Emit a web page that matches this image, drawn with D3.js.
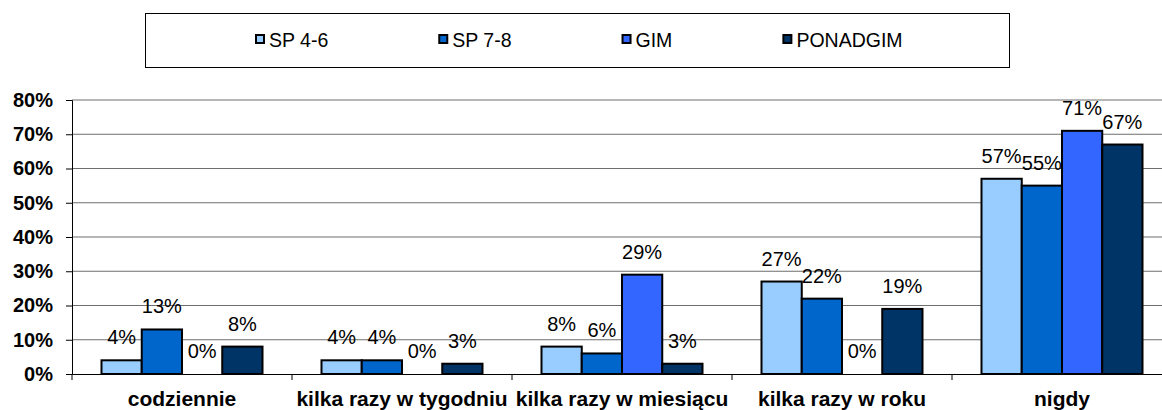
<!DOCTYPE html>
<html>
<head>
<meta charset="utf-8">
<script src="https://cdn.jsdelivr.net/npm/d3@7"></script>
<style>
  body { margin: 0; background: #fff; }
  svg { display: block; font-family: "Liberation Sans", Arial, sans-serif; }
</style>
</head>
<body>
<div id="chart"></div>
<script>
// data
var categories = ['codziennie', 'kilka razy w tygodniu', 'kilka razy w miesiącu', 'kilka razy w roku', 'nigdy'];
var seriesNames = ['SP 4-6', 'SP 7-8', 'GIM', 'PONADGIM'];
var sp46 = [4, 4, 8, 27, 57];
var sp78 = [13, 4, 6, 22, 55];
var gim = [0, 0, 29, 0, 71];
var ponadgim = [8, 3, 3, 19, 67];
var yTicks = [0, 10, 20, 30, 40, 50, 60, 70, 80];

var seriesValues = [sp46, sp78, gim, ponadgim];
var colors = ['#99ccff', '#0066cc', '#3366ff', '#003366'];

function drawChart() {
  // Settings
  var width = 1162;
  var height = 410;
  var plotLeft = 72, plotRight = 1172, plotTop = 100, plotBottom = 374;

  var svg = d3.select('#chart')
    .append('svg')
    .attr('width', width)
    .attr('height', height);

  var x = d3.scaleBand().domain(categories).range([plotLeft, plotRight]).padding(0);
  var inner = d3.scaleBand().domain(seriesNames)
    .range([29.5, x.bandwidth() - 29.5]).padding(0);
  var y = d3.scaleLinear().domain([0, 80]).range([plotBottom, plotTop]);

  // gridlines
  svg.append('g')
    .selectAll('line')
    .data(yTicks.filter(function(d) { return d > 0; }))
    .enter()
    .append('line')
    .attr('x1', plotLeft)
    .attr('x2', plotRight)
    .attr('y1', function(d) { return y(d); })
    .attr('y2', function(d) { return y(d); })
    .attr('stroke', '#6e6e6e')
    .attr('stroke-width', 1.2);

  // y axis
  var yAxis = svg.append('g')
    .attr('transform', 'translate(' + plotLeft + ',0)')
    .call(d3.axisLeft(y).tickValues(yTicks).tickSize(6).tickPadding(13)
      .tickFormat(function(d) { return d + '%'; }));
  yAxis.select('.domain').attr('stroke', '#000');
  yAxis.selectAll('line').attr('stroke', '#000');
  yAxis.selectAll('text')
    .attr('font-family', '"Liberation Sans", Arial, sans-serif')
    .attr('font-size', 20)
    .attr('font-weight', 'bold')
    .attr('fill', '#000');

  // x axis
  var xAxis = svg.append('g')
    .attr('transform', 'translate(0,' + plotBottom + ')')
    .call(d3.axisBottom(x).tickSize(0).tickPadding(0).tickSizeOuter(0));
  xAxis.select('.domain').attr('stroke', '#000');
  xAxis.selectAll('text')
    .attr('font-family', '"Liberation Sans", Arial, sans-serif')
    .attr('font-size', 21)
    .attr('font-weight', 'bold')
    .attr('fill', '#000')
    .attr('dy', null)
    .attr('y', 32);

  // category boundary ticks
  svg.append('g')
    .selectAll('line')
    .data(categories)
    .enter()
    .append('line')
    .attr('x1', function(d) { return x(d); })
    .attr('x2', function(d) { return x(d); })
    .attr('y1', plotBottom)
    .attr('y2', plotBottom + 6)
    .attr('stroke', '#000');

  // bars
  var groups = svg.selectAll('.grp')
    .data(categories)
    .enter()
    .append('g')
    .attr('class', 'grp')
    .attr('transform', function(d) { return 'translate(' + x(d) + ',0)'; });

  groups.selectAll('rect')
    .data(function(c, ci) {
      return seriesNames.map(function(s, si) {
        return { s: s, si: si, v: seriesValues[si][ci] };
      });
    })
    .enter()
    .append('rect')
    .attr('x', function(d) { return inner(d.s); })
    .attr('y', function(d) { return y(d.v); })
    .attr('width', inner.bandwidth())
    .attr('height', function(d) { return y(0) - y(d.v); })
    .attr('fill', function(d) { return colors[d.si]; })
    .attr('stroke', function(d) { return d.v > 0 ? '#000' : 'none'; })
    .attr('stroke-width', 2);

  groups.selectAll('text')
    .data(function(c, ci) {
      return seriesNames.map(function(s, si) {
        return { s: s, si: si, v: seriesValues[si][ci] };
      });
    })
    .enter()
    .append('text')
    .attr('x', function(d) { return inner(d.s) + inner.bandwidth() / 2; })
    .attr('y', function(d) { return y(d.v) - 16; })
    .attr('text-anchor', 'middle')
    .attr('font-size', 20)
    .attr('fill', '#000')
    .text(function(d) { return d.v + '%'; });

  // legend
  var legend = svg.append('g');
  legend.append('rect')
    .attr('x', 145.5)
    .attr('y', 13.5)
    .attr('width', 864)
    .attr('height', 54)
    .attr('fill', '#fff')
    .attr('stroke', '#000')
    .attr('stroke-width', 1);

  var lx = 256;
  seriesNames.forEach(function(s, i) {
    legend.append('rect')
      .attr('x', lx)
      .attr('y', 35)
      .attr('width', 8)
      .attr('height', 8)
      .attr('fill', colors[i])
      .attr('stroke', '#000')
      .attr('stroke-width', 2);
    var t = legend.append('text')
      .attr('x', lx + 13)
      .attr('y', 47)
      .attr('font-size', 19.5)
      .attr('fill', '#000')
      .text(s);
    lx = lx + 13 + t.node().getComputedTextLength() + 111;
  });
}

drawChart();
</script>
</body>
</html>
